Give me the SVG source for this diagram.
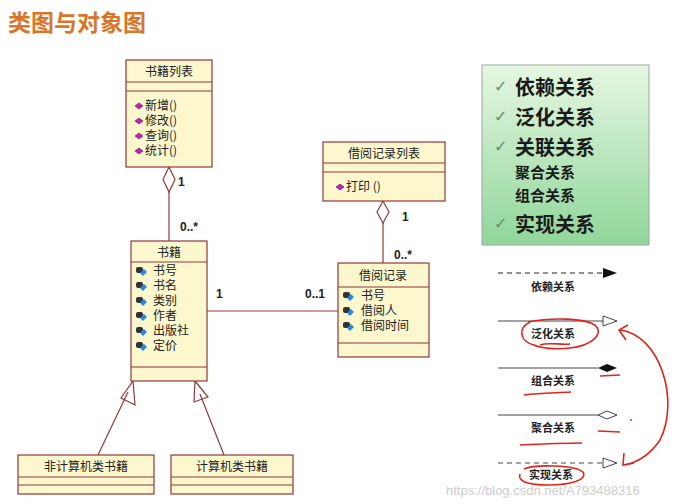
<svg xmlns="http://www.w3.org/2000/svg" width="692" height="504" viewBox="0 0 692 504">
<defs>
<style>
.box{fill:#fcf7cc;stroke:#8e3a3a;stroke-width:1.2}
.ln{stroke:#8e3a3a;stroke-width:1.2;fill:none}
.t{font-family:"Noto Sans CJK SC","Liberation Sans",sans-serif;font-size:12px;fill:#222}
.h{text-anchor:middle}
.m{font-family:"Liberation Sans",sans-serif;font-size:12px;fill:#222;font-weight:bold}
.g1{font-family:"Noto Sans CJK SC",sans-serif;font-size:20px;font-weight:bold;fill:#1a1a1a}
.g2{font-family:"Noto Sans CJK SC",sans-serif;font-size:15px;font-weight:bold;fill:#1a1a1a}
.ck{font-family:"DejaVu Sans",sans-serif;font-size:16px;fill:#6a8a6a}
.lg{font-family:"Noto Sans CJK SC",serif;font-size:11px;font-weight:bold;fill:#222;text-anchor:middle}
.red{stroke:#e0261a;stroke-width:1.6;fill:none}
</style>
<linearGradient id="gr" x1="0" y1="0" x2="0" y2="1"><stop offset="0" stop-color="#e6f7e2"/><stop offset="1" stop-color="#8fd69a"/></linearGradient>
<g id="op"><path d="M-4,0 L0,-3 L4,0 L0,3Z" fill="#c020c0" stroke="#601060" stroke-width="0.6"/></g>
<g id="at"><rect x="-5" y="-4" width="7" height="6" rx="2" fill="#333"/><path d="M-1,2 L3,-2 L6,1 L2,5Z" fill="#2a8ae0"/></g>
</defs>
<rect width="692" height="504" fill="#fff"/>
<text x="8" y="31" font-family="Noto Sans CJK SC,sans-serif" font-size="23" font-weight="bold" fill="#d9752a">类图与对象图</text>

<g id="connectors">
<line class="ln" x1="169" y1="192" x2="169" y2="241"/>
<path class="ln" d="M169,167 L175,179.5 L169,192 L163,179.5Z" fill="#fff"/>
<line class="ln" x1="383" y1="223" x2="383" y2="263"/>
<path class="ln" d="M383,201 L389,212 L383,223 L377,212Z" fill="#fff"/>
<line class="ln" x1="207" y1="311" x2="338" y2="311"/>
<line class="ln" x1="98" y1="455" x2="128" y2="392"/>
<path class="ln" d="M133,381 L135,405 L121,398Z" fill="#fff"/>
<line class="ln" x1="224" y1="455" x2="200" y2="394"/>
<path class="ln" d="M195,381 L208,397 L194,402Z" fill="#fff"/>
<text class="m" x="178" y="186">1</text>
<text class="m" x="180" y="231">0..*</text>
<text class="m" x="402" y="221">1</text>
<text class="m" x="394" y="259">0..*</text>
<text class="m" x="216" y="298">1</text>
<text class="m" x="305" y="298">0..1</text>
</g>

<g id="booklist">
<rect class="box" x="126" y="60" width="86" height="107"/>
<line class="ln" x1="126" y1="82" x2="212" y2="82"/><line class="ln" x1="126" y1="91" x2="212" y2="91"/>
<text class="t h" x="169" y="76">书籍列表</text>
<use href="#op" x="139" y="106"/><text class="t" x="145" y="110">新增()</text>
<use href="#op" x="139" y="121"/><text class="t" x="145" y="125">修改()</text>
<use href="#op" x="139" y="136"/><text class="t" x="145" y="140">查询()</text>
<use href="#op" x="139" y="151"/><text class="t" x="145" y="155">统计()</text>
</g>

<g id="book">
<rect class="box" x="131" y="241" width="76" height="140"/>
<line class="ln" x1="131" y1="262" x2="207" y2="262"/><line class="ln" x1="131" y1="367" x2="207" y2="367"/>
<text class="t h" x="169" y="257">书籍</text>
<use href="#at" x="141" y="271"/><text class="t" x="153" y="275">书号</text>
<use href="#at" x="141" y="286"/><text class="t" x="153" y="290">书名</text>
<use href="#at" x="141" y="301"/><text class="t" x="153" y="305">类别</text>
<use href="#at" x="141" y="316"/><text class="t" x="153" y="320">作者</text>
<use href="#at" x="141" y="331"/><text class="t" x="153" y="335">出版社</text>
<use href="#at" x="141" y="346"/><text class="t" x="153" y="350">定价</text>
</g>

<g id="recordlist">
<rect class="box" x="323" y="142" width="122" height="59"/>
<line class="ln" x1="323" y1="163" x2="445" y2="163"/><line class="ln" x1="323" y1="172" x2="445" y2="172"/>
<text class="t h" x="384" y="158">借阅记录列表</text>
<use href="#op" x="340" y="187"/><text class="t" x="346" y="191">打印 ()</text>
</g>

<g id="record">
<rect class="box" x="338" y="263" width="91" height="94"/>
<line class="ln" x1="338" y1="287" x2="429" y2="287"/><line class="ln" x1="338" y1="343" x2="429" y2="343"/>
<text class="t h" x="383" y="280">借阅记录</text>
<use href="#at" x="348" y="296"/><text class="t" x="361" y="300">书号</text>
<use href="#at" x="348" y="311"/><text class="t" x="361" y="315">借阅人</text>
<use href="#at" x="348" y="326"/><text class="t" x="361" y="330">借阅时间</text>
</g>

<g id="noncomp">
<rect class="box" x="18" y="455" width="136" height="39"/>
<line class="ln" x1="18" y1="477" x2="154" y2="477"/><line class="ln" x1="18" y1="485" x2="154" y2="485"/>
<text class="t h" x="86" y="471">非计算机类书籍</text>
</g>
<g id="comp">
<rect class="box" x="171" y="455" width="122" height="39"/>
<line class="ln" x1="171" y1="477" x2="293" y2="477"/><line class="ln" x1="171" y1="485" x2="293" y2="485"/>
<text class="t h" x="232" y="471">计算机类书籍</text>
</g>

<g id="panel">
<rect x="482" y="65" width="167" height="180" fill="url(#gr)" stroke="#9aa89a" stroke-width="1"/>
<text class="ck" x="494" y="92">✓</text><text class="g1" x="515" y="95">依赖关系</text>
<text class="ck" x="494" y="122">✓</text><text class="g1" x="515" y="125">泛化关系</text>
<text class="ck" x="494" y="152">✓</text><text class="g1" x="515" y="155">关联关系</text>
<text class="g2" x="515" y="178">聚合关系</text>
<text class="g2" x="515" y="201">组合关系</text>
<text class="ck" x="494" y="229">✓</text><text class="g1" x="515" y="232">实现关系</text>
</g>

<g id="legend">
<line x1="498" y1="273" x2="605" y2="273" stroke="#222" stroke-width="1.2" stroke-dasharray="5,4"/>
<path d="M603,268 L617,273 L603,278Z" fill="#111"/>
<text class="lg" x="553" y="291">依赖关系</text>
<line x1="498" y1="321" x2="603" y2="321" stroke="#444" stroke-width="1"/>
<path d="M603,316 L617,321 L603,326Z" fill="#fff" stroke="#444"/>
<text class="lg" x="553" y="338">泛化关系</text>
<line x1="498" y1="368" x2="598" y2="368" stroke="#444" stroke-width="1"/>
<path d="M598,368 L607,364 L617,368 L607,372Z" fill="#111"/>
<text class="lg" x="553" y="385">组合关系</text>
<line x1="498" y1="415" x2="598" y2="415" stroke="#444" stroke-width="1"/>
<path d="M598,415 L607,411 L617,415 L607,419Z" fill="#fff" stroke="#444"/>
<text class="lg" x="553" y="432">聚合关系</text>
<line x1="498" y1="463" x2="603" y2="463" stroke="#444" stroke-width="1" stroke-dasharray="5,4"/>
<path d="M603,458 L617,463 L603,468Z" fill="#fff" stroke="#444"/>
<text class="lg" x="551" y="479">实现关系</text>
</g>

<g id="annotations">
<path class="red" d="M528,322 C548,318 585,317 596,326 C604,335 590,346 570,348 C555,350 540,348 534,345 C519,341 518,328 530,322"/>
<path class="red" d="M540,345 C548,342 560,345 570,344"/>
<path class="red" d="M524,469 C535,464 575,465 583,472 C588,480 570,485 548,485 C530,485 517,482 520,474"/>
<path class="red" d="M600,376 L620,375"/>
<path class="red" d="M524,395 C540,393 555,393 571,392"/>
<path class="red" d="M598,431 L620,432"/>
<path class="red" d="M520,445 C540,444 560,443 582,443"/>
<circle cx="631" cy="420" r="1" fill="#e0261a"/>
<path class="red" d="M620,330 C660,335 680,400 660,440 C650,455 638,462 625,465"/>
<path class="red" d="M628,325 L619,330 L626,340"/>
<path class="red" d="M624,453 L623,465 L634,463"/>
</g>
<text x="446" y="495" font-family="Liberation Sans,sans-serif" font-size="13" fill="#c8c8c8" opacity="0.9">https://blog.csdn.net/A793488316</text>
</svg>
